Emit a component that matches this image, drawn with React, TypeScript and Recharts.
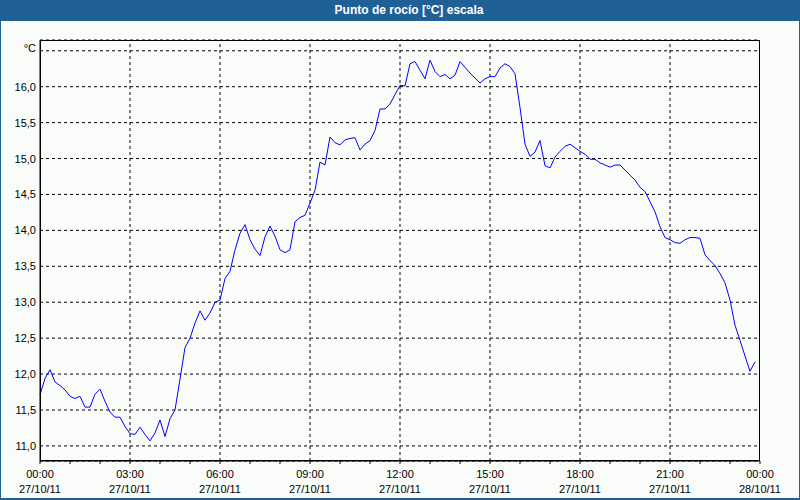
import { LineChart, Line, XAxis, YAxis, CartesianGrid, ReferenceLine } from "recharts";

// dew point readings every 10 minutes, 27/10/11 00:00 .. 23:50
const STEP_MIN = 10;
const dewPoint = [
  11.71, 11.94, 12.06, 11.89, 11.84, 11.78, 11.69, 11.66, 11.69, 11.54, 11.54, 11.72,
  11.79, 11.62, 11.47, 11.4, 11.4, 11.27, 11.17, 11.16, 11.26, 11.16, 11.07, 11.18,
  11.36, 11.13, 11.38, 11.5, 11.93, 12.37, 12.5, 12.71, 12.88, 12.75, 12.85, 13.0,
  13.03, 13.33, 13.43, 13.73, 13.96, 14.08, 13.87, 13.74, 13.65, 13.91, 14.06, 13.92,
  13.73, 13.69, 13.73, 14.12, 14.18, 14.21, 14.38, 14.56, 14.95, 14.91, 15.3, 15.22,
  15.19, 15.26, 15.28, 15.29, 15.12, 15.2, 15.25, 15.39, 15.69, 15.69, 15.76, 15.89,
  16.02, 16.01, 16.32, 16.35, 16.23, 16.11, 16.37, 16.21, 16.14, 16.17, 16.11, 16.16,
  16.35, 16.27, 16.19, 16.12, 16.05, 16.11, 16.14, 16.14, 16.26, 16.32, 16.28, 16.18,
  15.71, 15.2, 15.03, 15.09, 15.25, 14.9, 14.87, 15.02, 15.1, 15.17, 15.2, 15.15,
  15.1, 15.06, 14.99, 14.99, 14.94, 14.91, 14.88, 14.91, 14.91, 14.84, 14.77, 14.7,
  14.6, 14.54, 14.4, 14.26, 14.05, 13.9, 13.87, 13.83, 13.82, 13.87, 13.9, 13.9,
  13.89, 13.66, 13.58, 13.51, 13.4, 13.27, 13.03, 12.68, 12.47, 12.25, 12.04, 12.17,
];

const hourTicks = [
  0, 60, 120, 180, 240, 300, 360, 420, 480, 540, 600, 660, 720, 780, 840, 900, 960,
  1020, 1080, 1140, 1200, 1260, 1320, 1380, 1440,
];
const gridMinutes = [180, 360, 540, 720, 900, 1080, 1260];
const timeLabels = ["00:00", "03:00", "06:00", "09:00", "12:00", "15:00", "18:00", "21:00", "00:00"];
const dateLabels = [
  "27/10/11", "27/10/11", "27/10/11", "27/10/11", "27/10/11",
  "27/10/11", "27/10/11", "27/10/11", "28/10/11",
];
const yTicks = [11, 11.5, 12, 12.5, 13, 13.5, 14, 14.5, 15, 15.5, 16, 16.5];

const data = dewPoint.map((v, i) => ({ min: i * STEP_MIN, v }));

const FONT = "'Liberation Sans', Arial, sans-serif";

function XTick(props: any) {
  const { x, y, payload } = props;
  const m = payload.value as number;
  if (m % 180 !== 0) return <g />;
  const k = m / 180;
  return (
    <g>
      <text x={x} y={y + 12} textAnchor="middle" fontSize={11} fontFamily={FONT} fill="#000">
        {timeLabels[k]}
      </text>
      <text x={x} y={y + 27} textAnchor="middle" fontSize={11} fontFamily={FONT} fill="#000">
        {dateLabels[k]}
      </text>
    </g>
  );
}

function YTick(props: any) {
  const { x, y, payload } = props;
  const v = payload.value as number;
  const top = v === 16.5;
  return (
    <text x={x} y={top ? y + 1 : y + 4} textAnchor="end" fontSize={11} fontFamily={FONT} fill="#000">
      {top ? "°C" : v.toFixed(1).replace(".", ",")}
    </text>
  );
}

export default function App() {
  return (
    <div
      style={{
        position: "absolute",
        left: 0,
        top: 0,
        width: 800,
        height: 500,
        background: "#fafcfa",
        overflow: "hidden",
      }}
    >
      <LineChart
        width={800}
        height={500}
        data={data}
        margin={{ top: 40, right: 40, bottom: 0, left: 0 }}
      >
        <CartesianGrid vertical={false} stroke="#000" strokeDasharray="3 3" />
        {gridMinutes.map((m) => (
          <ReferenceLine key={m} x={m} stroke="#000" strokeDasharray="3 3" />
        ))}
        <XAxis
          dataKey="min"
          type="number"
          domain={[0, 1440]}
          ticks={hourTicks}
          interval={0}
          height={39}
          stroke="#000"
          tickSize={3}
          tickMargin={2}
          tick={XTick}
        />
        <YAxis
          type="number"
          domain={[10.79, 16.65]}
          ticks={yTicks}
          interval={0}
          allowDataOverflow
          width={40}
          stroke="#000"
          tickLine={false}
          tickSize={2}
          tickMargin={2}
          tick={YTick}
        />
        <Line
          dataKey="v"
          type="linear"
          stroke="#0000ff"
          strokeWidth={1}
          dot={false}
          isAnimationActive={false}
        />
      </LineChart>
      <div
        style={{
          position: "absolute",
          left: 40,
          top: 40,
          width: 720,
          height: 421,
          border: "1px solid #000",
          boxSizing: "border-box",
          pointerEvents: "none",
        }}
      />
      <div
        style={{
          position: "absolute",
          left: 0,
          top: 0,
          width: 800,
          height: 21,
          background: "#1f6096",
          color: "#fff",
          fontFamily: FONT,
          fontWeight: "bold",
          fontSize: 12,
          lineHeight: "21px",
          textAlign: "center",
          paddingLeft: 18,
          boxSizing: "border-box",
        }}
      >
        Punto de rocío [°C] escala
      </div>
      <div
        style={{
          position: "absolute",
          left: 0,
          top: 0,
          width: 800,
          height: 500,
          borderLeft: "1px solid #1f6096",
          borderRight: "1px solid #1f6096",
          borderBottom: "2px solid #1f6096",
          boxSizing: "border-box",
          pointerEvents: "none",
        }}
      />
    </div>
  );
}
